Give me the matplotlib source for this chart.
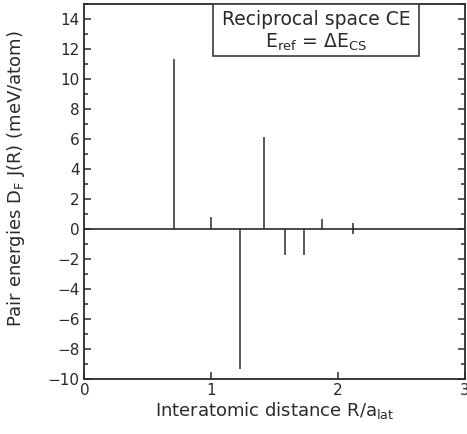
import matplotlib
matplotlib.use("Agg")
import matplotlib.pyplot as plt
from matplotlib.patches import Rectangle
from matplotlib.ticker import MultipleLocator

# Pair interaction energies per neighbour shell (fcc, distance in lattice units)
distances = [0.707, 1.000, 1.225, 1.414, 1.581, 1.732, 1.871, 2.121, 2.121]
pair_energies = [11.35, 0.80, -9.30, 6.15, -1.70, -1.70, 0.65, 0.40, -0.35]

x_ticks = [0, 1, 2, 3]
y_ticks = [-10, -8, -6, -4, -2, 0, 2, 4, 6, 8, 10, 12, 14]

ink = "#2a2a2a"
plt.rcParams["font.family"] = ["DejaVu Sans"]
plt.rcParams["mathtext.fontset"] = "dejavusans"

fig = plt.figure(figsize=(4.67, 4.34), dpi=100)
ax = fig.add_axes([0.1807, 0.1267, 0.8150, 0.8641])

ax.vlines(distances, 0, pair_energies, colors=ink, linewidth=1.1)
ax.axhline(0, color=ink, linewidth=1.2)

ax.set_xlim(0, 3)
ax.set_ylim(-10, 15)
ax.set_xticks(x_ticks)
ax.set_yticks(y_ticks)
ax.yaxis.set_minor_locator(MultipleLocator(1))
ax.set_xticklabels([str(t) for t in x_ticks])
ax.set_yticklabels([str(t).replace("-", "\u2212") for t in y_ticks])

ax.tick_params(axis="both", which="both", direction="in", colors=ink,
               labelsize=11, labelcolor=ink, width=1.1)
ax.tick_params(axis="y", which="major", length=5, right=True)
ax.tick_params(axis="y", which="minor", length=3, right=True)
ax.tick_params(axis="x", which="major", length=5, top=False, pad=3)

for s in ax.spines.values():
    s.set_linewidth(1.3)
    s.set_color(ink)

ax.set_xlabel("Interatomic distance R/a$_\\mathrm{lat}$", fontsize=13,
              color=ink, labelpad=1)
ax.set_ylabel("Pair energies D$_\\mathrm{F}$ J(R) (meV/atom)", fontsize=13,
              color=ink)
ax.yaxis.set_label_coords(-0.152, 0.535)

# Annotation box hanging from the top frame
ax.add_patch(Rectangle((1.013, 11.53), 1.624, 3.47, facecolor="white",
                       edgecolor=ink, linewidth=1.1, zorder=3))
ax.text(1.825, 13.95, "Reciprocal space CE", ha="center", va="center",
        fontsize=13.5, color=ink, zorder=4)
ax.text(1.825, 12.45, "E$_\\mathrm{ref}$ = \u0394E$_\\mathrm{CS}$", ha="center",
        va="center", fontsize=13.5, color=ink, zorder=4)

fig.savefig("out.png", dpi=100)
